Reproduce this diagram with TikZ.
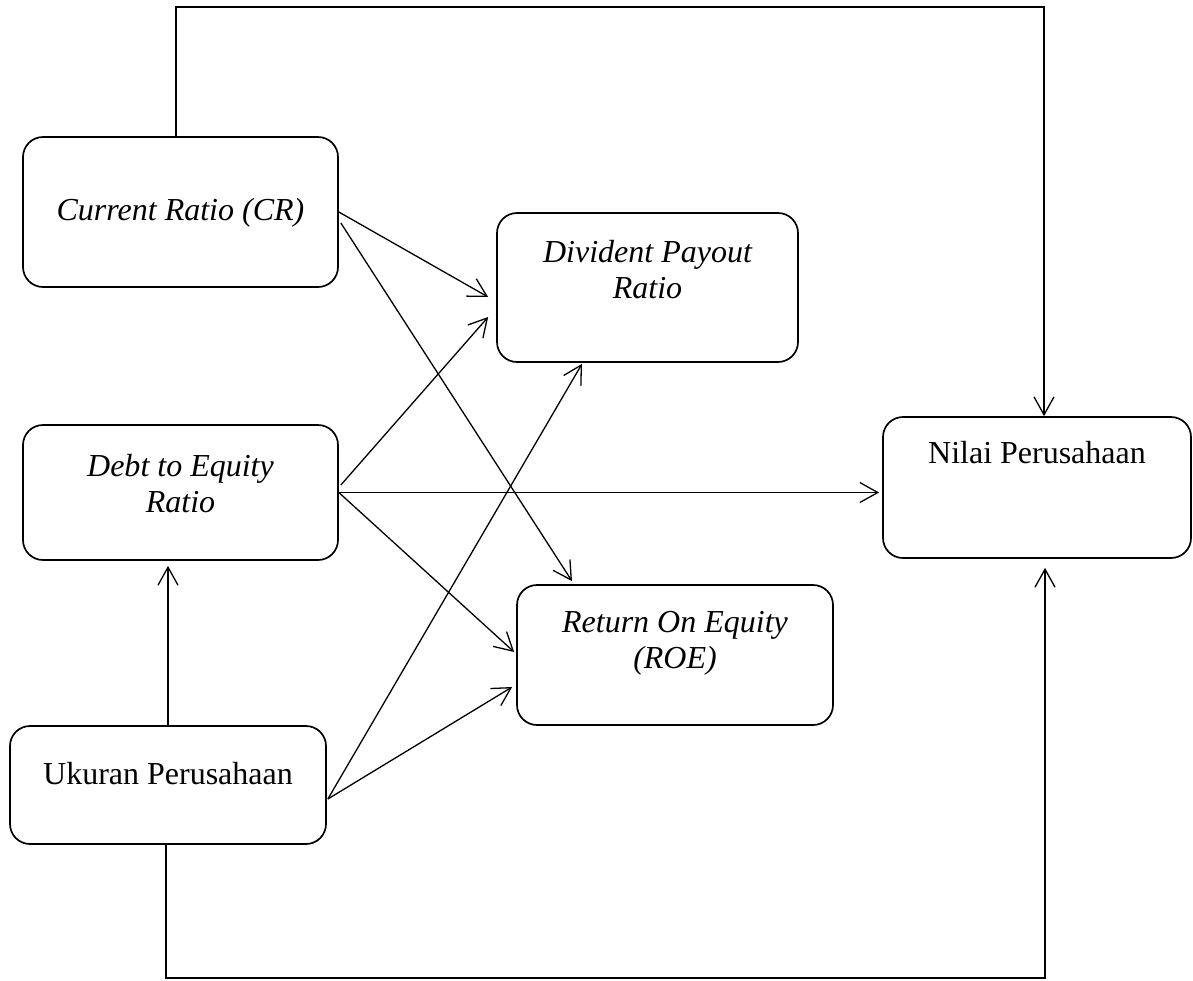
\documentclass[tikz,border=0pt]{standalone}
\usepackage{fontspec}
\setmainfont{Liberation Serif}
\usetikzlibrary{arrows.meta, calc}

\newcommand{\boxtext}[4]{\parbox[c][#1][t]{#2}{\centering\rule{0pt}{#3}#4}}

\begin{document}
\begin{tikzpicture}[x=0.5pt, y=-0.5pt,
    box/.style={draw, line width=0.85pt, rounded corners=10pt, inner sep=0pt},
    conn/.style={line width=0.65pt, -{Straight Barb[length=9pt,width=10pt]}},
    font=\fontsize{16pt}{18pt}\selectfont]
      \useasboundingbox (0,0) rectangle (1193,980);

      \node[box] (cr) at (180.5,212) {\boxtext{75pt}{157.5pt}{41.5pt}{\itshape Current Ratio (CR)}};
      \node[box] (der) at (180.5,492.5) {\boxtext{67.5pt}{157.5pt}{25.5pt}{\itshape Debt to Equity\\Ratio}};
      \node[box] (ukr) at (168,785) {\boxtext{59pt}{158pt}{29pt}{Ukuran Perusahaan}};
      \node[box] (dpr) at (647.5,287.5) {\boxtext{74.5pt}{150.5pt}{24.5pt}{\itshape Divident Payout\\Ratio}};
      \node[box] (roe) at (675,655) {\boxtext{70pt}{158pt}{23.5pt}{\itshape Return On Equity\\(ROE)}};
      \node[box] (nilai) at (1037,487.5) {\boxtext{70.5pt}{154pt}{23pt}{Nilai Perusahaan}};

      % frame lines round the top and the bottom
      \coordinate (tl) at (176,7);
      \coordinate (tr) at (1044,7);
      \coordinate (bl) at (166,978);
      \coordinate (br) at (1045,978);
      \draw[conn] (cr.north -| tl) -- (tl) -- (tr) -- (tr |- nilai.north);
      \draw[conn, shorten >=4.5pt] (ukr.south -| bl) -- (bl) -- (br) -- (br |- nilai.south);

      \draw[conn, shorten >=2.5pt] (ukr.north) -- (ukr.north |- der.south);

      \draw[conn] (cr.east) -- ($(dpr.west)+(-8,9.5)$);
      \draw[conn] ($(cr.east)+(2,11)$) -- ($(roe.north)+(-103,-3)$);

      \draw[conn] ($(der.east)+(2,-7.5)$) -- ($(dpr.west)+(-8,29.5)$);
      \draw[conn, shorten >=1.5pt] (der.east) -- (der.east -| nilai.west);
      \draw[conn] (der.east) -- ($(roe.west)+(-2,-3)$);

      \draw[conn] ($(ukr.east)+(1,14)$) -- ($(dpr.south)+(-65.5,1)$);
      \draw[conn] ($(ukr.east)+(1,14)$) -- ($(roe.west)+(-4,32)$);
    \end{tikzpicture}
\end{document}
